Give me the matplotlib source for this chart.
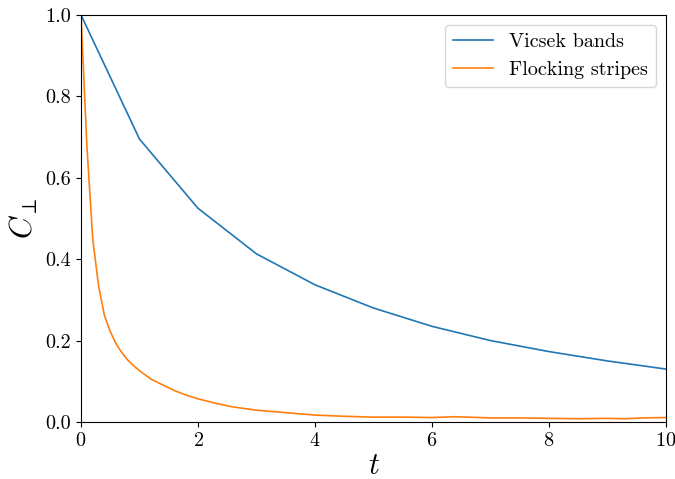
import numpy as np
import matplotlib
matplotlib.use("Agg")
import matplotlib.pyplot as plt

plt.rcParams["font.family"] = "serif"
plt.rcParams["font.serif"] = ["cmr10"]
plt.rcParams["mathtext.fontset"] = "cm"
plt.rcParams["axes.formatter.use_mathtext"] = True

# Vicsek bands, sampled at integer times
t_vicsek = [0, 1, 2, 3, 4, 5, 6, 7, 8, 9, 10]
c_vicsek = [1.0, 0.695, 0.525, 0.413, 0.337, 0.280, 0.235, 0.200, 0.173, 0.150, 0.130]

# Flocking stripes
t_flock = [0, 0.1, 0.2, 0.3, 0.4, 0.5, 0.6, 0.7, 0.8, 0.9, 1.0,
           1.2, 1.4, 1.6, 1.8, 2.0, 2.3, 2.6, 3.0, 3.5, 4.0, 4.5,
           5.0, 5.5, 6.0, 6.4, 7.0, 7.5, 8.0, 8.5, 9.0, 9.3, 9.6, 10.0]
c_flock = [1.0, 0.68, 0.45, 0.335, 0.262, 0.222, 0.192, 0.170, 0.152, 0.138, 0.126,
           0.105, 0.091, 0.077, 0.066, 0.057, 0.046, 0.037, 0.029, 0.023, 0.017, 0.014,
           0.012, 0.012, 0.011, 0.013, 0.010, 0.010, 0.009, 0.008, 0.009, 0.008, 0.010, 0.011]

fig = plt.figure(figsize=(6.75, 4.79), dpi=100)
ax = fig.add_axes([0.12, 0.119, 0.8667, 0.8498])

ax.plot(t_vicsek, c_vicsek, color="#1f77b4", lw=1.2, label="Vicsek bands")
ax.plot(t_flock, c_flock, color="#ff7f0e", lw=1.2, label="Flocking stripes")

ax.set_xlim(0, 10)
ax.set_ylim(0, 1.0)
ax.set_xticks([0, 2, 4, 6, 8, 10])
ax.set_yticks([0.0, 0.2, 0.4, 0.6, 0.8, 1.0])
ax.set_yticklabels(["0.0", "0.2", "0.4", "0.6", "0.8", "1.0"])
ax.tick_params(labelsize=14.5)
ax.set_xlabel(r"$t$", fontsize=22, labelpad=2)
ax.set_ylabel(r"$C_\perp$", fontsize=22)

ax.legend(loc="upper right", fontsize=14.5)

fig.savefig("out.png", dpi=100)
